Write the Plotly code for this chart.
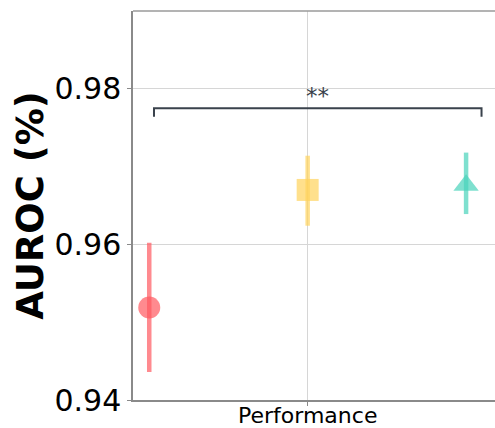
import plotly.graph_objects as go

# ---- data ----
category = ["Performance"]
models = ["Model A", "Model B", "Model C"]
means = [0.9519, 0.9670, 0.9676]
lower = [0.9436, 0.9624, 0.9639]
upper = [0.9602, 0.9714, 0.9718]
yticks = [0.94, 0.96, 0.98]
sig_label = "**"
sig_y = 0.9775
sig_drop = 0.0011

# ---- style ----
colors = ["rgba(255,88,95,0.7)", "rgba(255,211,91,0.7)", "rgba(72,211,186,0.7)"]
symbols = ["circle", "square", "triangle-up"]
dodge = 0.4
FONT = "DejaVu Sans"

fig = go.Figure()
for i, m in enumerate(models):
    x = (i - 1) * dodge
    fig.add_trace(go.Scatter(
        x=[x], y=[means[i]], mode="markers", name=m,
        marker=dict(symbol=symbols[i], size=22, color=colors[i], line=dict(width=0)),
        error_y=dict(type="data", symmetric=False,
                     array=[upper[i] - means[i]], arrayminus=[means[i] - lower[i]],
                     color=colors[i], thickness=4.5, width=0),
        showlegend=False,
    ))

# significance bracket
x0, x1 = -0.388, 0.439
fig.add_trace(go.Scatter(
    x=[x0, x0, x1, x1], y=[sig_y - sig_drop, sig_y, sig_y, sig_y - sig_drop],
    mode="lines", line=dict(color="#3a424c", width=2), showlegend=False, hoverinfo="skip"))
fig.add_annotation(x=(x0 + x1) / 2, y=sig_y, text=sig_label, showarrow=False,
                   yanchor="bottom", yshift=-3,
                   font=dict(family=FONT, size=23, color="#3a424c"))

# category label (placed as annotation so it sits close to the axis)
fig.add_annotation(x=0, xref="x", y=0, yref="paper", text=category[0], showarrow=False,
                   yanchor="top", yshift=-1,
                   font=dict(family=FONT, size=22, color="black"))

# top border
fig.add_shape(type="line", xref="paper", yref="paper", x0=0, x1=1, y0=1, y1=1,
              line=dict(color="#9a9a9a", width=1.5))

fig.update_layout(
    width=495, height=428,
    margin=dict(l=133, r=0, t=11, b=28, autoexpand=False),
    paper_bgcolor="white", plot_bgcolor="white",
    font=dict(family=FONT, color="black"),
)
fig.update_xaxes(
    range=[-0.441, 0.473], tickvals=[0], ticktext=[""], automargin=False,
    showgrid=True, gridcolor="#d6d6d6", gridwidth=1, zeroline=False,
    showline=True, linecolor="#8a8a8a", linewidth=1.5,
    ticks="outside", ticklen=4, tickcolor="#8a8a8a",
)
fig.update_yaxes(
    range=[0.94, 0.99], tickvals=yticks, ticktext=[f"{v:.2f}" for v in yticks], automargin=False,
    showgrid=True, gridcolor="#d6d6d6", gridwidth=1, zeroline=False,
    showline=True, linecolor="#8a8a8a", linewidth=1.5,
    ticks="outside", ticklen=4, tickcolor="#8a8a8a",
    tickfont=dict(family=FONT, size=30, color="black"),
    title=dict(text="<b>AUROC (%)</b>", font=dict(family=FONT, size=37, color="black"), standoff=0),
)

fig.write_html("out.html",
               config={"displayModeBar": False},
               post_script="document.body.style.margin='0';document.documentElement.style.overflow='hidden';")
